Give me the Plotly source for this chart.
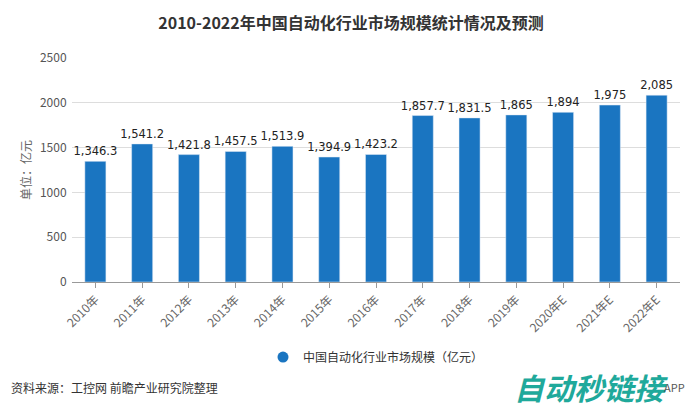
import plotly.graph_objects as go

# data
years = ["2010年", "2011年", "2012年", "2013年", "2014年", "2015年", "2016年",
         "2017年", "2018年", "2019年", "2020年E", "2021年E", "2022年E"]
market_size = [1346.3, 1541.2, 1421.8, 1457.5, 1513.9, 1394.9, 1423.2,
               1857.7, 1831.5, 1865, 1894, 1975, 2085]
bar_labels = ["1,346.3", "1,541.2", "1,421.8", "1,457.5", "1,513.9", "1,394.9", "1,423.2",
              "1,857.7", "1,831.5", "1,865", "1,894", "1,975", "2,085"]
series_name = "中国自动化行业市场规模（亿元）"

FONT = "Noto Sans CJK SC, Noto Sans, sans-serif"
BLUE = "#1a75c1"

# page body has an 8px margin, so the figure is drawn a bit smaller
W, H = 686, 401

fig = go.Figure()
fig.add_trace(go.Bar(
    x=years, y=market_size,
    name=series_name, showlegend=False,
    marker=dict(color=BLUE),
    width=0.45,
    text=bar_labels,
    textposition="outside",
    constraintext="none",
    cliponaxis=False,
    textfont=dict(family="DejaVu Sans, Verdana, sans-serif", size=11.5, color="#222222"),
))
# legend entry with round marker
fig.add_trace(go.Scatter(
    x=[None], y=[None], mode="markers", name=series_name,
    marker=dict(symbol="circle", size=11, color=BLUE),
))

fig.update_layout(
    width=W, height=H,
    paper_bgcolor="white", plot_bgcolor="white",
    font=dict(family=FONT, color="#444444"),
    margin=dict(l=64, r=14, t=50, b=127, autoexpand=False),
    title=dict(text="<b>2010-2022年中国自动化行业市场规模统计情况及预测</b>",
               x=0.5, xanchor="center", y=0.962, yanchor="middle",
               font=dict(size=16, color="#333333", family=FONT)),
    showlegend=True,
    legend=dict(orientation="h", x=0.5, xanchor="center", y=-0.335, yanchor="middle",
                font=dict(size=12, color="#333333")),
)

fig.update_xaxes(
    automargin=False,
    showline=True, linecolor="#999999", linewidth=1,
    ticks="outside", ticklen=5, tickcolor="#999999",
    tickangle=-45, tickfont=dict(size=12, color="#666666"),
    showgrid=False,
)
fig.update_yaxes(
    automargin=False,
    range=[0, 2500], dtick=500, tickformat="d",
    showgrid=True, gridcolor="#dddddd", gridwidth=1,
    zeroline=False, showline=False,
    ticks="outside", ticklen=2, tickcolor="rgba(0,0,0,0)",
    tickfont=dict(size=12, color="#555555"),
    title=dict(text="单位：亿元", font=dict(size=12, color="#666666"), standoff=5),
)

fig.add_annotation(text="资料来源：工控网 前瞻产业研究院整理", xref="paper", yref="paper",
                   x=-0.104, xanchor="left", y=-0.469, yanchor="middle", showarrow=False,
                   font=dict(size=12, color="#333333"))
fig.add_annotation(text="<b><i>自动秒链接</i></b>", xref="paper", yref="paper",
                   x=0.983, xanchor="right", y=-0.469, yanchor="middle", showarrow=False,
                   font=dict(size=30, color="#1fa99b"))
fig.add_annotation(text="APP", xref="paper", yref="paper",
                   x=1.011, xanchor="right", y=-0.469, yanchor="middle", showarrow=False,
                   font=dict(size=11, color="#555555"))

fig.write_html("out.html")
